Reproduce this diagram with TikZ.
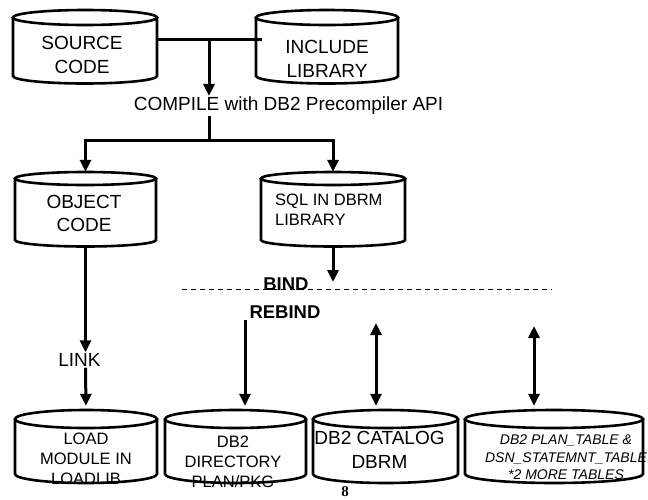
\documentclass[tikz,border=0pt]{standalone}
\usepackage{fontspec}
\setmainfont{Liberation Sans}
\newfontfamily\pagefont{Liberation Serif}
\usetikzlibrary{arrows.meta,calc}

% drum: name, left, right, top, bottom, y radius
\newcommand{\drum}[6]{%
	\draw [drumline] ({(#2+#3)/2},#4) ellipse [x radius={(#3-#2)/2}, y radius=#6];
	\draw [drumline] (#2,#4) -- (#2,#5) arc [start angle=180, end angle=0, x radius={(#3-#2)/2}, y radius=#6] -- (#3,#4);
	\node [inner sep=0pt, minimum width={(#3-#2)*1pt}, minimum height={(#5-#4+2*#6)*1pt}] (#1) at ({(#2+#3)/2},{(#4+#5)/2}) {};
}

\begin{document}
\begin{tikzpicture}[x=1pt, y=-1pt, >={Triangle[width=11pt,length=12pt]},
		drumline/.style={line width=2.6pt},
		wire/.style={line width=3pt},
		big/.style={font=\fontsize{19}{23.5}\selectfont, align=center, inner sep=1pt},
		mid/.style={font=\fontsize{16.5}{20}\selectfont, align=center, inner sep=0pt},
		small/.style={font=\itshape\fontsize{14}{17.5}\selectfont, align=center, inner sep=0pt}]
		\useasboundingbox (0,0) rectangle (648,499);
		%\draw [help lines, step=50] (0,0) grid (648,499);
		
		% Sorgenti
		\drum{src}{13}{157}{17.5}{76}{7.5}
		\drum{inc}{256}{398}{17.5}{76}{7.5}
		\node [big] (srctxt) at (82,55) {SOURCE\\CODE};
		\node [big] (inctxt) at (327,59) {INCLUDE\\LIBRARY};
		
		% Compilazione
		\node [big] (compile) at (288.5,106) {COMPILE with DB2 Precompiler API};
		\coordinate (join) at (209,39);
		\coordinate (split) at (209,140);
		\draw [wire] (src.east |- join) -- ([xshift=6pt]inc.west |- join);
		\draw [wire,->] (join) -- (join |- compile.north);
		\draw [wire] (join |- compile.south) -- (split);
		
		% Oggetto e DBRM
		\drum{obj}{15}{156}{178.5}{240}{6.5}
		\drum{sql}{261}{405}{178.5}{240}{6.5}
		\node [big] (objtxt) at (84,213.5) {OBJECT\\CODE};
		\node [mid, align=left, anchor=west] (sqltxt) at (275,210) {SQL IN DBRM\\LIBRARY};
		\draw [wire,->] (split) -| (obj.north);
		\draw [wire,->] (split) -| (sql.north);
		
		% Bind
		\coordinate (dl) at (182,289);
		\coordinate (dr) at (552,289);
		\draw [line width=1pt, dash pattern=on 5pt off 4pt] (dl) -- (dr);
		\draw [wire,->] (sql.south) -- ($(sql.south |- dl)+(0,-7)$);
		\node [big, font=\bfseries\fontsize{18.5}{22}\selectfont] (bind) at (286,284) {BIND};
		\node [big, font=\bfseries\fontsize{18.5}{22}\selectfont] (rebind) at (285,312) {REBIND};
		
		% Link
		\node [big] (link) at (79.5,360) {LINK};
		\draw [wire,->] (obj.south) -- (obj.south |- link.north);
		
		% Destinazioni
		\drum{load}{15}{157}{419}{474}{9}
		\drum{dir}{165}{306}{419}{474}{9}
		\drum{cat}{313}{458}{419}{474}{9}
		\drum{plan}{465}{643}{419}{474}{9}
		\node [mid] (loadtxt) at (86,459) {LOAD\\MODULE IN\\LOADLIB};
		\node [mid] (dirtxt) at (233,462) {DB2\\DIRECTORY\\PLAN/PKG};
		\node [big, inner sep=0pt] (cattxt) at (379.5,450) {DB2 CATALOG\\DBRM};
		\node [small] (plantxt) at (566,457.5) {DB2 PLAN\_TABLE \&\\DSN\_STATEMNT\_TABLE\\*2 MORE TABLES};
		
		\coordinate (rbtop) at (245,320);
		\coordinate (cattop) at (376,323);
		\coordinate (plantop) at (534,326);
		\draw [wire,->,shorten >=4pt] (obj.south |- link.south) -- (load.north);
		\draw [wire,->,shorten >=4pt] (rbtop) -- (rbtop |- dir.north);
		\draw [wire,<->,shorten >=4pt] (cattop) -- (cattop |- cat.north);
		\draw [wire,<->,shorten >=4pt] (plantop) -- (plantop |- plan.north);
		
		% Pagina
		\node [font=\pagefont\bfseries\fontsize{15}{17}\selectfont, inner sep=0pt] (page) at (345,492) {8};
	\end{tikzpicture}
\end{document}
